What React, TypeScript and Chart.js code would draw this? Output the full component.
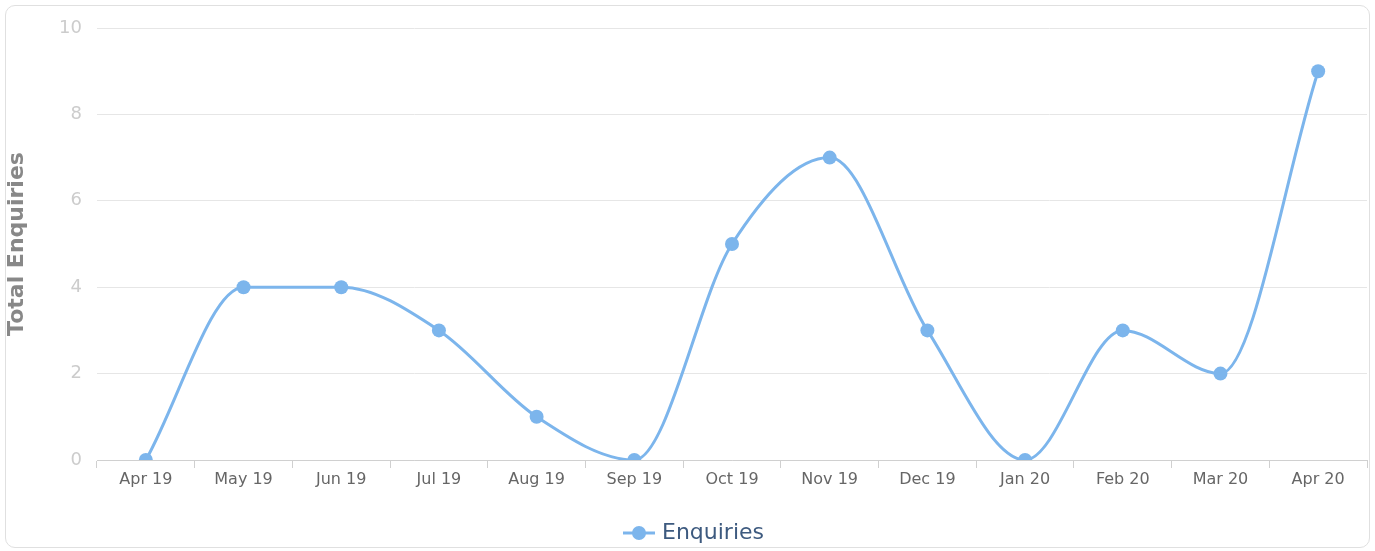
import React, { useEffect, useRef } from "react";
import { Chart, registerables } from "chart.js";

Chart.register(...registerables);

const categories = ["Apr 19", "May 19", "Jun 19", "Jul 19", "Aug 19", "Sep 19", "Oct 19", "Nov 19", "Dec 19", "Jan 20", "Feb 20", "Mar 20", "Apr 20"];
const enquiries = [0, 4, 4, 3, 1, 0, 5, 7, 3, 0, 3, 2, 9];
const seriesName = "Enquiries";
const yTitle = "Total Enquiries";

const LINE = "#7cb5ec";

function makeLegendSymbol() {
  const c = document.createElement("canvas");
  c.width = 56;
  c.height = 16;
  const ctx = c.getContext("2d")!;
  ctx.strokeStyle = LINE;
  ctx.lineWidth = 3;
  ctx.beginPath();
  ctx.moveTo(24, 8);
  ctx.lineTo(56, 8);
  ctx.stroke();
  ctx.fillStyle = LINE;
  ctx.beginPath();
  ctx.arc(40, 8, 7, 0, Math.PI * 2);
  ctx.fill();
  return c;
}

export default function App() {
  const ref = useRef<HTMLCanvasElement>(null);
  useEffect(() => {
    document.body.style.margin = "0";
    const symbol = makeLegendSymbol();
    const chart = new Chart(ref.current!, {
      type: "line",
      data: {
        labels: categories,
        datasets: [
          {
            label: seriesName,
            data: enquiries,
            borderColor: LINE,
            backgroundColor: LINE,
            borderWidth: 3,
            pointRadius: 7,
            pointHoverRadius: 7,
            pointBackgroundColor: LINE,
            pointBorderWidth: 0,
            cubicInterpolationMode: "monotone",
            tension: 0.4,
            fill: false,
          },
        ],
      },
      options: {
        responsive: false,
        animation: false,
        layout: { padding: { left: 0, right: 8, top: 28, bottom: 0 } },
        plugins: {
          tooltip: { enabled: false },
          legend: {
            position: "bottom",
            labels: {
              usePointStyle: true,
              pointStyleWidth: 48,
              padding: 3,
              color: "#3d5a7f",
              font: { family: "DejaVu Sans", size: 22 },
              generateLabels: () => [
                {
                  text: seriesName,
                  pointStyle: symbol as any,
                  fillStyle: LINE,
                  strokeStyle: LINE,
                  lineWidth: 0,
                  hidden: false,
                  datasetIndex: 0,
                  fontColor: "#3d5a7f",
                } as any,
              ],
            },
          },
        },
        scales: {
          x: {
            offset: true,
            grid: {
              offset: true,
              drawOnChartArea: false,
              drawTicks: true,
              tickLength: 8,
              color: "#d0d0d0",
              lineWidth: 1,
            },
            border: { display: true, color: "#d0d0d0", width: 1 },
            ticks: {
              color: "#666666",
              padding: 2,
              maxRotation: 0,
              autoSkip: false,
              font: { family: "DejaVu Sans", size: 16 },
            },
            afterFit: (scale: any) => {
              scale.height = 59;
            },
          },
          y: {
            min: 0,
            max: 10,
            ticks: {
              stepSize: 2,
              color: "#cccccc",
              padding: 15,
              font: { family: "DejaVu Sans", size: 18 },
            },
            grid: { color: "#e6e6e6", drawTicks: false, lineWidth: 1 },
            border: { display: false },
            title: {
              display: true,
              text: yTitle,
              color: "#888888",
              font: { family: "DejaVu Sans", size: 22, weight: "bold" },
              padding: { top: 4, bottom: 4 },
            },
            afterFit: (scale: any) => {
              scale.width = 97;
            },
          },
        },
      },
    });
    return () => chart.destroy();
  }, []);

  return (
    <div style={{ position: "relative", width: 1375, height: 551, background: "#fff", overflow: "hidden" }}>
      <div
        style={{
          position: "absolute",
          left: 5,
          top: 5,
          width: 1365,
          height: 543,
          border: "1px solid #e0e0e0",
          borderRadius: 10,
          boxSizing: "border-box",
        }}
      />
      <canvas ref={ref} width={1375} height={554} style={{ position: "absolute", left: 0, top: 0 }} />
    </div>
  );
}
